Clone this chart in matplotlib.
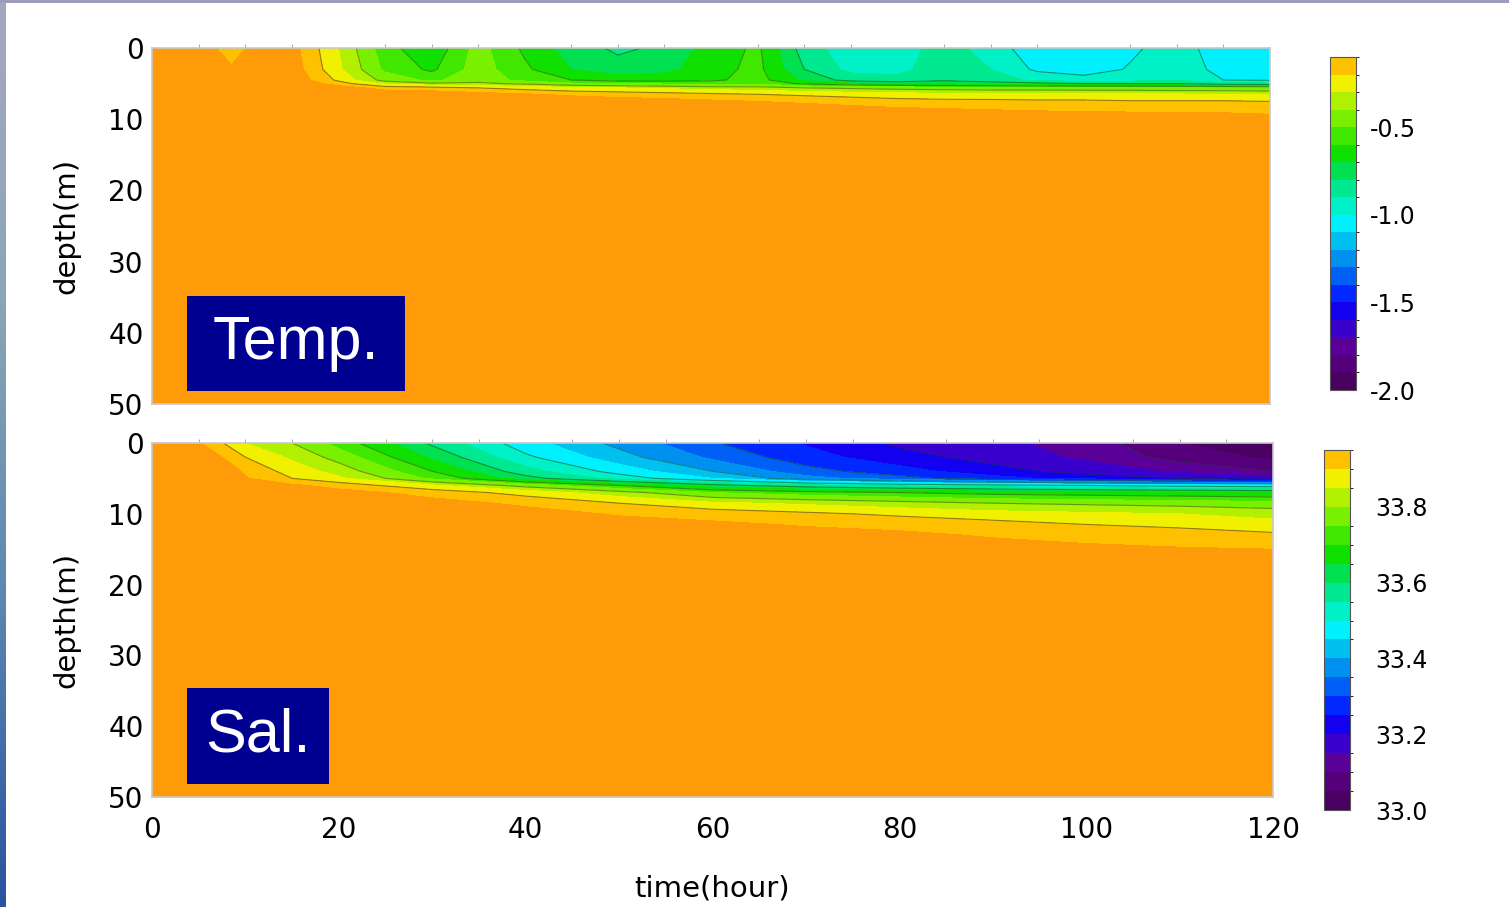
import numpy as np
import matplotlib

matplotlib.use("Agg")
import matplotlib.pyplot as plt  # noqa: E402
from matplotlib.cm import ScalarMappable  # noqa: E402
from matplotlib.colors import BoundaryNorm, LinearSegmentedColormap, ListedColormap  # noqa: E402
from matplotlib.patches import Rectangle  # noqa: E402

# ---- data ----
# temperature anomaly, one column per time, values at temp_depth
temp_time = [0, 5, 6.5, 8.5, 10.5, 12, 15, 20, 25, 30, 35, 40, 45, 50, 55, 60,
             65, 70, 75, 80, 85, 90, 95, 100, 105, 110, 115, 120]
temp_depth = [0, 3, 4.5, 5.0, 5.6, 6.5, 7.5, 8.5, 9.5, 11, 50]
temp_columns = [
    [0, 0, 0, 0, 0, 0, 0, 0, 0, 0, 0],
    [0, 0, 0, 0, 0, 0, 0, 0, 0, 0, 0],
    [-0.09, -0.05, 0, 0, 0, 0, 0, 0, 0, 0, 0],
    [-0.14, -0.09, -0.02, 0, 0, 0, 0, 0, 0, 0, 0],
    [-0.09, -0.05, 0, 0, 0, 0, 0, 0, 0, 0, 0],
    [0, 0, 0, 0, 0, 0, 0, 0, 0, 0, 0],
    [-0.06, -0.04, -0.02, 0, 0, 0, 0, 0, 0, 0, 0],
    [-0.30, -0.28, -0.22, -0.15, -0.05, 0, 0, 0, 0, 0, 0],
    [-0.56, -0.52, -0.44, -0.32, -0.14, -0.02, 0, 0, 0, 0, 0],
    [-0.68, -0.62, -0.52, -0.38, -0.16, -0.03, 0, 0, 0, 0, 0],
    [-0.46, -0.45, -0.44, -0.38, -0.20, -0.06, 0, 0, 0, 0, 0],
    [-0.62, -0.58, -0.53, -0.42, -0.24, -0.09, -0.01, 0, 0, 0, 0],
    [-0.75, -0.70, -0.60, -0.48, -0.28, -0.12, -0.03, 0, 0, 0, 0],
    [-0.82, -0.76, -0.64, -0.50, -0.30, -0.14, -0.05, 0, 0, 0, 0],
    [-0.78, -0.73, -0.64, -0.52, -0.32, -0.16, -0.06, -0.01, 0, 0, 0],
    [-0.66, -0.64, -0.62, -0.54, -0.35, -0.18, -0.08, -0.02, 0, 0, 0],
    [-0.58, -0.57, -0.56, -0.52, -0.36, -0.20, -0.10, -0.03, 0, 0, 0],
    [-0.85, -0.80, -0.72, -0.62, -0.40, -0.22, -0.12, -0.05, -0.01, 0, 0],
    [-0.96, -0.93, -0.84, -0.68, -0.42, -0.24, -0.14, -0.07, -0.02, 0, 0],
    [-0.96, -0.93, -0.87, -0.72, -0.44, -0.26, -0.16, -0.09, -0.03, 0, 0],
    [-0.85, -0.84, -0.82, -0.72, -0.45, -0.27, -0.17, -0.10, -0.04, 0, 0],
    [-0.95, -0.90, -0.86, -0.74, -0.46, -0.28, -0.17, -0.11, -0.05, 0, 0],
    [-1.06, -1.02, -0.92, -0.77, -0.46, -0.28, -0.18, -0.12, -0.06, 0, 0],
    [-1.08, -1.05, -0.96, -0.80, -0.47, -0.28, -0.18, -0.12, -0.07, -0.01, 0],
    [-1.02, -0.99, -0.94, -0.80, -0.47, -0.29, -0.19, -0.13, -0.07, -0.01, 0],
    [-0.95, -0.93, -0.91, -0.80, -0.48, -0.29, -0.19, -0.13, -0.08, -0.01, 0],
    [-1.06, -1.04, -1.00, -0.86, -0.48, -0.30, -0.19, -0.13, -0.08, -0.02, 0],
    [-1.07, -1.05, -1.01, -0.88, -0.50, -0.30, -0.20, -0.14, -0.09, -0.02, 0],
]

# salinity, one column per time, values at sal_depth
sal_time = [0, 5, 10, 15, 20, 30, 40, 50, 60, 70, 80, 90, 100, 110, 120]
sal_depth = [0, 2, 4, 5, 6, 7, 8.5, 10, 11.5, 13, 15, 17, 50]
sal_columns = [
    [34.05, 34.05, 34.05, 34.05, 34.05, 34.05, 34.05, 34.05, 34.05, 34.05, 34.05, 34.05, 34.05],
    [33.955, 34.0, 34.05, 34.05, 34.05, 34.05, 34.05, 34.05, 34.05, 34.05, 34.05, 34.05, 34.05],
    [33.85, 33.90, 33.94, 33.955, 34.0, 34.05, 34.05, 34.05, 34.05, 34.05, 34.05, 34.05, 34.05],
    [33.80, 33.84, 33.88, 33.90, 33.96, 34.02, 34.05, 34.05, 34.05, 34.05, 34.05, 34.05, 34.05],
    [33.73, 33.78, 33.83, 33.86, 33.93, 33.97, 34.05, 34.05, 34.05, 34.05, 34.05, 34.05, 34.05],
    [33.59, 33.64, 33.70, 33.74, 33.86, 33.93, 33.97, 34.05, 34.05, 34.05, 34.05, 34.05, 34.05],
    [33.47, 33.51, 33.57, 33.62, 33.78, 33.88, 33.94, 33.97, 34.05, 34.05, 34.05, 34.05, 34.05],
    [33.385, 33.42, 33.48, 33.53, 33.70, 33.82, 33.90, 33.945, 33.97, 34.05, 34.05, 34.05, 34.05],
    [33.305, 33.34, 33.40, 33.45, 33.62, 33.75, 33.86, 33.93, 33.96, 34.0, 34.05, 34.05, 34.05],
    [33.245, 33.27, 33.32, 33.37, 33.57, 33.72, 33.84, 33.91, 33.945, 33.97, 34.02, 34.05, 34.05],
    [33.19, 33.22, 33.27, 33.32, 33.54, 33.70, 33.82, 33.89, 33.935, 33.96, 34.0, 34.05, 34.05],
    [33.165, 33.18, 33.22, 33.27, 33.52, 33.68, 33.80, 33.87, 33.92, 33.945, 33.97, 34.02, 34.05],
    [33.125, 33.14, 33.18, 33.23, 33.50, 33.67, 33.79, 33.86, 33.90, 33.935, 33.96, 34.0, 34.05],
    [33.05, 33.08, 33.14, 33.20, 33.48, 33.66, 33.78, 33.85, 33.89, 33.92, 33.955, 33.99, 34.05],
    [33.02, 33.04, 33.10, 33.17, 33.47, 33.65, 33.77, 33.83, 33.87, 33.91, 33.95, 33.98, 34.05],
]

temp_levels = np.linspace(-2.0, -0.1, 20)
sal_levels = np.linspace(33.0, 33.95, 20)
temp_ticks = [-2.0, -1.5, -1.0, -0.5]
sal_ticks = [33.0, 33.2, 33.4, 33.6, 33.8]
temp_lines = [-1.0, -0.8, -0.6, -0.4, -0.2]
sal_lines = [33.1, 33.2, 33.3, 33.4, 33.5, 33.6, 33.7, 33.8, 33.9]
depth_ticks = [0, 10, 20, 30, 40, 50]
time_ticks = [0, 20, 40, 60, 80, 100, 120]

# 19 colour bands, bottom to top, plus the colour above the top level
band_colors = [
    "#4a0060", "#55007a", "#5a0099", "#3a00cc", "#1400f0", "#0028ff",
    "#0060f5", "#0090f0", "#00c0f0", "#00f0ff", "#00f0c8", "#00e890",
    "#00e050", "#10e000", "#40e800", "#78f000", "#b0f000", "#f0f000",
    "#ffc000",
]
over_color = "#ff9a08"

plt.rcParams["font.family"] = ["DejaVu Sans"]
plt.rcParams["axes.unicode_minus"] = False

W, H = 1509, 907
fig = plt.figure(figsize=(W / 100, H / 100), dpi=100)
fig.patch.set_facecolor("white")


def fbox(x0, y0, x1, y1):
    # pixel box (top-left origin) -> figure fraction rect
    return [x0 / W, 1 - y1 / H, (x1 - x0) / W, (y1 - y0) / H]


cmap = ListedColormap(band_colors).with_extremes(over=over_color)


def draw_panel(ax, times, depths, columns, levels, lines):
    field = np.array(columns).T
    norm = BoundaryNorm(levels, ncolors=len(band_colors))
    ax.contourf(times, depths, field, levels=levels, cmap=cmap, norm=norm,
                extend="max")
    ax.contour(times, depths, field, levels=lines, colors="#1f3d1f",
               linewidths=0.8, linestyles="solid", alpha=0.5)
    ax.set_xlim(0, 120)
    ax.set_ylim(50, 0)
    ax.set_yticks(depth_ticks)
    ax.set_xticks(time_ticks)
    ax.set_xticks(np.arange(0, 121, 5), minor=True)
    ax.tick_params(axis="both", which="major", length=0, labelsize=20, pad=6)
    ax.tick_params(axis="x", which="minor", top=True, bottom=False,
                   direction="out", length=3, color="#999999")
    for s in ax.spines.values():
        s.set_color("#c8c8c8")
        s.set_linewidth(1.2)
    ax.set_ylabel("depth(m)", fontsize=21, labelpad=20)
    return norm


def draw_cbar(rect, norm, ticks, pad):
    cax = fig.add_axes(rect)
    sm = ScalarMappable(norm=norm, cmap=cmap)
    cb = fig.colorbar(sm, cax=cax, ticks=ticks)
    cb.ax.set_yticklabels([f"{t:.1f}" for t in ticks])
    cb.ax.tick_params(length=0, labelsize=17, pad=pad)
    cb.outline.set_edgecolor("#555555")
    cb.outline.set_linewidth(0.8)
    return cb


ax_t = fig.add_axes(fbox(152, 48, 1270, 404))
norm_t = draw_panel(ax_t, temp_time, temp_depth, temp_columns, temp_levels,
                    temp_lines)
ax_t.tick_params(axis="x", labelbottom=False)

ax_s = fig.add_axes(fbox(152, 443, 1273, 797))
norm_s = draw_panel(ax_s, sal_time, sal_depth, sal_columns, sal_levels,
                    sal_lines)
ax_s.tick_params(axis="x", which="major", pad=14)
ax_s.set_xlabel("time(hour)", fontsize=21, labelpad=22)

draw_cbar(fbox(1330, 57, 1356, 390), norm_t, temp_ticks, 10)
draw_cbar(fbox(1324, 450, 1350, 810), norm_s, sal_ticks, 18)

# panel name boxes
for (x0, y0, x1, y1), name in [((187, 296, 405, 391), "Temp."),
                                ((187, 688, 329, 784), "Sal.")]:
    r = fbox(x0, y0, x1, y1)
    fig.patches.append(Rectangle((r[0], r[1]), r[2], r[3],
                                 transform=fig.transFigure,
                                 facecolor="#000090", edgecolor="none",
                                 zorder=5))
    fig.text(r[0] + r[2] / 2, r[1] + r[3] / 2, name, color="white",
             fontsize=44, family=["Liberation Sans", "DejaVu Sans"],
             ha="center", va="center", zorder=6)

# slide border strips
edge = fig.add_axes(fbox(0, 0, 6, H))
edge.imshow(np.linspace(0, 1, 256).reshape(-1, 1), aspect="auto",
            cmap=LinearSegmentedColormap.from_list(
                "edge", ["#a6a6c0", "#8aa6b4", "#5a86b0", "#2a52a0"]))
edge.axis("off")
fig.patches.append(Rectangle((0, 1 - 3 / H), 1, 3 / H,
                             transform=fig.transFigure,
                             facecolor="#9c9cbc", edgecolor="none"))

fig.savefig("out.png", dpi=100)
